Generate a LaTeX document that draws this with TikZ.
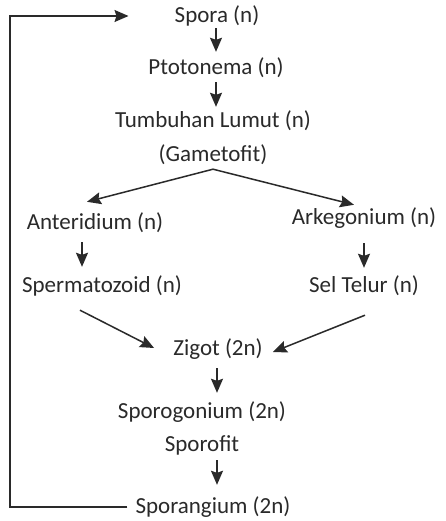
\documentclass[tikz,border=0pt]{standalone}
\usepackage{fontspec}
\setmainfont{Carlito}
\usetikzlibrary{arrows.meta,calc}
\definecolor{ink}{HTML}{2A2A2A}
\begin{document}
\begin{tikzpicture}[x=1pt,y=-1pt,
  lbl/.style={anchor=base,text=ink,font=\fontsize{23}{26}\selectfont,inner sep=0pt,text height=15pt,text depth=5pt},
  arr/.style={draw=ink,line width=1.5pt,-{Stealth[length=14pt,width=12pt,inset=2pt]}}]
\useasboundingbox[fill=white] (0,0) rectangle (445,521);
\node[lbl] (spora) at (217,23) {Spora (n)};
\node[lbl] (ptoto) at (216,75) {Ptotonema (n)};
\node[lbl] (tumb) at (213,128) {Tumbuhan Lumut (n)};
\node[lbl] (game) at (213,162) {(Gametofit)};
\node[lbl] (anter) at (95,229) {Anteridium (n)};
\node[lbl] (arke) at (364,224) {Arkegonium (n)};
\node[lbl] (sperm) at (102,292) {Spermatozoid (n)};
\node[lbl] (sel) at (364,292) {Sel Telur (n)};
\node[lbl] (zigot) at (218,355) {Zigot (2n)};
\node[lbl] (sporog) at (202,418) {Sporogonium (2n)};
\node[lbl] (sporof) at (202,451) {Sporofit};
\node[lbl] (sporang) at (213,513) {Sporangium (2n)};

\draw[arr] ($(spora.south)+(-1,0)$) -- ($(spora.south |- ptoto.north)+(-1,-8)$);
\draw[arr] ($(spora.south |- ptoto.south)+(-1,2)$) -- ($(spora.south |- tumb.north)+(-1,-6)$);
\coordinate (apex) at ($(game.south)+(0,2)$);
\draw[arr] (apex) -- ($(anter.north)+(-8,-12)$);
\draw[arr] (apex) -- ($(arke.north)+(-10,-4)$);
\draw[arr] ($(anter.south)+(-13,8)$) -- ($(anter.south |- sperm.north)+(-13,-10)$);
\draw[arr] ($(arke.south)+(0,14)$) -- ($(arke.south |- sel.north)+(0,-9)$);
\draw[arr] ($(sperm.south)+(-22,13)$) -- ($(zigot.west)+(-19,-2)$);
\draw[arr] ($(sel.south)+(1,18)$) -- ($(zigot.east)+(10,2)$);
\draw[arr] ($(zigot.south)+(-1,8)$) -- ($(zigot.south |- sporog.north)+(-1,-10)$);
\draw[arr] ($(zigot.south |- sporof.south)+(-1,4)$) -- ($(zigot.south |- sporang.north)+(-1,-13)$);
\draw[arr] ($(sporang.west)+(-8,-1)$) -| (10,16) -- ($(spora.west)+(-46,-2)$);
\end{tikzpicture}
\end{document}
